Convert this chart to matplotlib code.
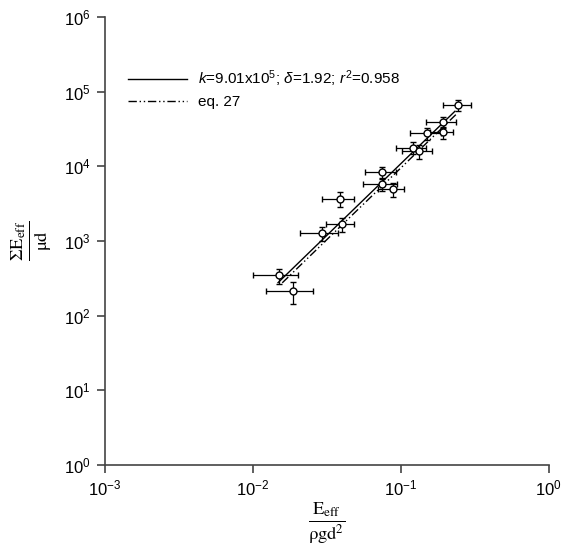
import numpy as np
import matplotlib
matplotlib.use('Agg')
import matplotlib.pyplot as plt

plt.rcParams['font.family'] = ['Liberation Sans', 'DejaVu Sans']
plt.rcParams['mathtext.fontset'] = 'custom'
plt.rcParams['mathtext.rm'] = 'Liberation Sans'
plt.rcParams['mathtext.it'] = 'Liberation Sans:italic'

# data
x = [0.244, 0.192, 0.151, 0.192, 0.121, 0.132, 0.0751, 0.0746, 0.0879,
     0.0387, 0.0399, 0.0292, 0.0151, 0.0188]
y = [65900, 39400, 27600, 28400, 17700, 16000, 8280, 5830, 4950,
     3670, 1670, 1265, 347, 212]
xerr = [0.052, 0.045, 0.036, 0.035, 0.028, 0.030, 0.018, 0.019, 0.018,
        0.0095, 0.0085, 0.0085, 0.005, 0.0065]
yerr = [11000, 7000, 5000, 5000, 3200, 3500, 1600, 1200, 1100,
        800, 350, 280, 80, 70]

k_fit, d_fit = 9.01e5, 1.92
k_eq, d_eq = 7.9e5, 1.92
xfit = np.array([0.0148, 0.232])
xeq = np.array([0.0158, 0.238])

fig = plt.figure(figsize=(5.64, 5.47), dpi=100)
ax = fig.add_axes([0.186, 0.150, 0.787, 0.819])

ax.plot(xfit, k_fit * xfit ** d_fit, 'k-', lw=1.0,
        label=r'$\mathit{k}$=9.01x10$^5$; $\mathit{\delta}$=1.92; $\mathit{r}^2$=0.958')
ax.plot(xeq, k_eq * xeq ** d_eq, 'k', lw=1.0, ls=(0, (6, 2, 1, 2, 1, 2)),
        label='eq. 27')
ax.errorbar(x, y, xerr=xerr, yerr=yerr, fmt='o', mfc='white', mec='black',
            ecolor='black', ms=5, mew=1.0, elinewidth=0.9, capsize=2.5,
            capthick=0.9, zorder=3)

ax.set_xscale('log')
ax.set_yscale('log')
ax.set_xlim(1e-3, 1e0)
ax.set_ylim(1e0, 1e6)
ax.spines['top'].set_visible(False)
ax.spines['right'].set_visible(False)
for s in ['left', 'bottom']:
    ax.spines[s].set_color('#444444')
    ax.spines[s].set_linewidth(1.2)

xt = [1e-3, 1e-2, 1e-1, 1e0]
yt = [1e0, 1e1, 1e2, 1e3, 1e4, 1e5, 1e6]
ax.set_xticks(xt)
ax.set_xticklabels([r'10$^{%d}$' % int(np.log10(v)) for v in xt])
ax.set_yticks(yt)
ax.set_yticklabels([r'10$^{%d}$' % int(np.log10(v)) for v in yt])
ax.minorticks_off()
ax.tick_params(direction='out', length=6, width=1.2, color='#444444',
               labelsize=12, pad=4)

ax.set_xlabel(r'$\frac{\mathrm{E_{eff}}}{\mathrm{\rho g d^2}}$',
              fontsize=19, math_fontfamily='stix', labelpad=1)
ax.set_ylabel(r'$\frac{\mathrm{\Sigma E_{eff}}}{\mathrm{\mu d}}$',
              fontsize=19, math_fontfamily='stix', labelpad=8)

ax.legend(loc='upper left', bbox_to_anchor=(0.02, 0.915), frameon=False,
          fontsize=11, handlelength=3.9, handletextpad=0.7, labelspacing=0.4)

fig.savefig('out.png', dpi=100)
